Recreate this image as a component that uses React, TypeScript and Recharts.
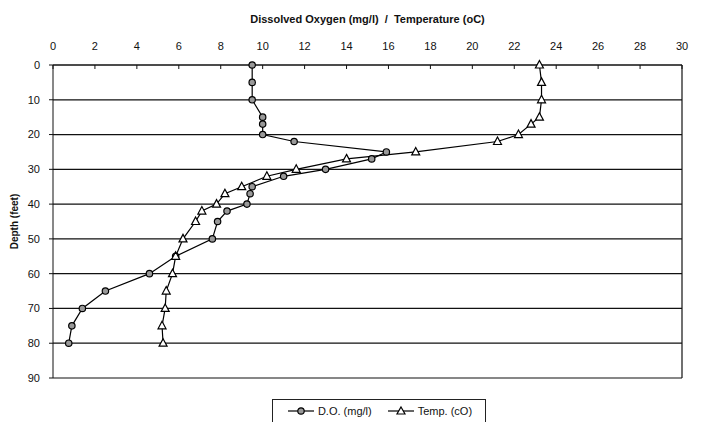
import { LineChart, Line, XAxis, YAxis, CartesianGrid, Legend, ReferenceLine } from "recharts"

// dissolved oxygen profile (mg/l) by depth (feet)
const doDepths = [0, 5, 10, 15, 17, 20, 22, 25, 27, 30, 32, 35, 37, 40, 42, 45, 50, 55, 60, 65, 70, 75, 80]
const doValues = [9.5, 9.5, 9.5, 10.0, 10.0, 10.0, 11.5, 15.9, 15.2, 13.0, 11.0, 9.5, 9.4, 9.25, 8.3, 7.85, 7.6, 5.85, 4.6, 2.5, 1.4, 0.9, 0.75]

// temperature profile (oC) by depth (feet)
const tempDepths = [0, 5, 10, 15, 17, 20, 22, 25, 27, 30, 32, 35, 37, 40, 42, 45, 50, 55, 60, 65, 70, 75, 80]
const tempValues = [23.2, 23.3, 23.3, 23.2, 22.8, 22.2, 21.2, 17.3, 14.0, 11.6, 10.2, 9.0, 8.2, 7.8, 7.1, 6.8, 6.2, 5.85, 5.7, 5.4, 5.35, 5.2, 5.25]

const xTicks = [0, 2, 4, 6, 8, 10, 12, 14, 16, 18, 20, 22, 24, 26, 28, 30]
const yTicks = [0, 10, 20, 30, 40, 50, 60, 70, 80, 90]

const doData = doDepths.map((depth, i) => ({ depth, value: doValues[i] }))
const tempData = tempDepths.map((depth, i) => ({ depth, value: tempValues[i] }))

const font = "'Liberation Sans', Arial, sans-serif"

const Triangle = (props: any) => {
  const { cx, cy, index } = props
  if (cx == null || cy == null) return null
  return (
    <path
      key={`tri-${index}`}
      d={`M${cx},${cy - 4.5} L${cx + 4},${cy + 3} L${cx - 4},${cy + 3} Z`}
      fill="#fff"
      stroke="#000"
      strokeWidth={1.2}
    />
  )
}

const LegendBox = () => (
  <div
    style={{
      border: "1px solid #222",
      height: 28,
      display: "flex",
      alignItems: "flex-start",
      justifyContent: "center",
      paddingTop: 5,
      boxSizing: "border-box",
      fontFamily: font,
      fontSize: 11,
      color: "#111",
      gap: 14,
    }}
  >
    <span style={{ display: "flex", alignItems: "center" }}>
      <svg width={30} height={12}>
        <line x1={2} y1={6} x2={28} y2={6} stroke="#000" strokeWidth={1.2} />
        <circle cx={15} cy={6} r={3.2} fill="#999" stroke="#000" strokeWidth={1.2} />
      </svg>
      <span style={{ marginLeft: 2 }}>D.O. (mg/l)</span>
    </span>
    <span style={{ display: "flex", alignItems: "center" }}>
      <svg width={30} height={12}>
        <line x1={2} y1={6} x2={28} y2={6} stroke="#000" strokeWidth={1.2} />
        <path d="M15,2 L19,9 L11,9 Z" fill="#fff" stroke="#000" strokeWidth={1.2} />
      </svg>
      <span style={{ marginLeft: 2 }}>Temp. (cO)</span>
    </span>
  </div>
)

export default function App() {
  return (
    <div style={{ position: "absolute", left: 0, top: 0 }}>
      <LineChart
        width={705}
        height={422}
        layout="vertical"
        margin={{ top: 40, right: 23, left: 18, bottom: 44 }}
      >
        <CartesianGrid vertical={false} stroke="#111" strokeWidth={1.2} />
        <XAxis
          type="number"
          orientation="top"
          domain={[0, 30]}
          ticks={xTicks}
          height={25}
          stroke="#111"
          tickSize={-4}
          tickMargin={19}
          tick={{ fill: "#111", fontSize: 11, fontFamily: font }}
          label={{
            value: "Dissolved Oxygen (mg/l)\u00a0\u00a0/\u00a0\u00a0Temperature (oC)",
            position: "top",
            offset: 17,
            style: { fill: "#111", fontSize: 11, fontFamily: font, fontWeight: "bold" },
          }}
        />
        <YAxis
          type="number"
          dataKey="depth"
          domain={[0, 90]}
          ticks={yTicks}
          width={35}
          stroke="#111"
          tickSize={4}
          tickMargin={9}
          tick={{ fill: "#111", fontSize: 11, fontFamily: font }}
          label={{
            value: "Depth (feet)",
            angle: -90,
            position: "insideLeft",
            offset: -4,
            style: { textAnchor: "middle", fill: "#111", fontSize: 10, fontFamily: font, fontWeight: "bold" },
          }}
        />
        <ReferenceLine x={30} stroke="#111" strokeWidth={1.2} />
        <Legend
          verticalAlign="middle"
          align="center"
          content={<LegendBox />}
          wrapperStyle={{ left: 272, top: 399, width: 214 }}
        />
        <Line
          data={doData}
          dataKey="value"
          name="D.O. (mg/l)"
          stroke="#000"
          strokeWidth={1.2}
          dot={{ r: 3.2, fill: "#999", stroke: "#000", strokeWidth: 1.2 }}
          isAnimationActive={false}
        />
        <Line
          data={tempData}
          dataKey="value"
          name="Temp. (cO)"
          stroke="#000"
          strokeWidth={1.2}
          dot={<Triangle />}
          isAnimationActive={false}
        />
      </LineChart>
    </div>
  )
}
